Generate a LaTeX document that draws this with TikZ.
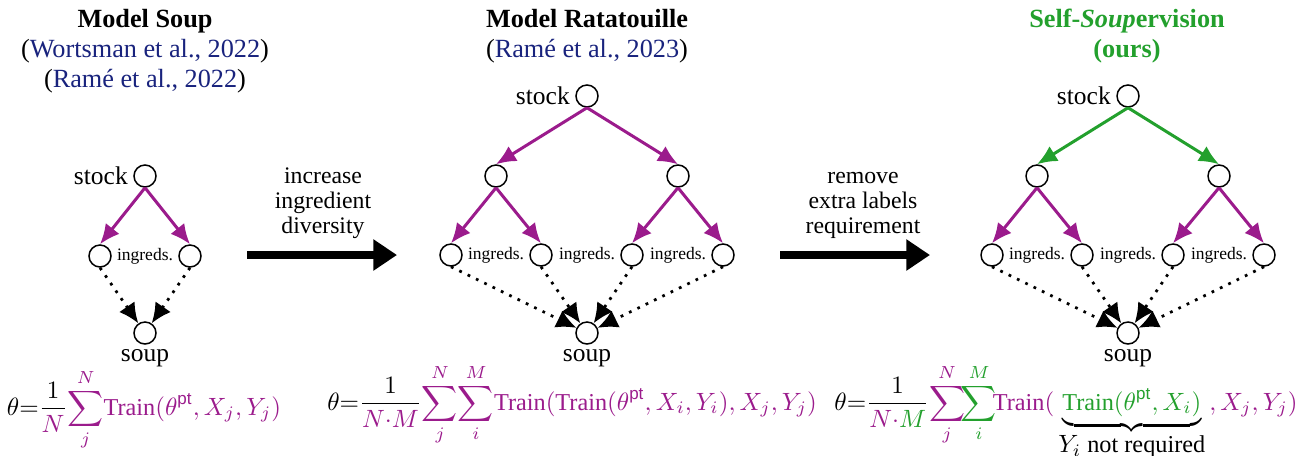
\documentclass[tikz,border=0pt]{standalone}
\usepackage{amsmath}
\usepackage{fontspec}
\setmainfont{Liberation Serif}
\setsansfont{Liberation Sans}
\usetikzlibrary{arrows.meta}
\definecolor{pur}{RGB}{155,27,140}
\definecolor{grn}{RGB}{35,160,45}
\definecolor{citeblue}{RGB}{25,35,125}
\newcommand\cP[1]{\textcolor{pur}{#1}}
\newcommand\cG[1]{\textcolor{grn}{#1}}
\newcommand\pt{\text{\sffamily pt}}
\begin{document}
\begin{tikzpicture}[x=0.4pt,y=-0.4pt,
  circ/.style={circle,draw,line width=0.6pt,minimum size=8.8pt,inner sep=0pt},
  titletxt/.style={anchor=base,font=\fontsize{10.5}{12.6}\selectfont\bfseries,inner sep=0pt},
  citetxt/.style={anchor=base,font=\fontsize{10.5}{12.6}\selectfont,inner sep=0pt},
  lbl/.style={font=\fontsize{10.2}{12}\selectfont,inner sep=0pt},
  ingtxt/.style={font=\fontsize{7}{8}\selectfont,inner sep=0pt},
  arrtxt/.style={anchor=base,font=\fontsize{9.5}{10}\selectfont,inner sep=0pt},
  formula/.style={anchor=base,font=\fontsize{9.7}{11.6}\selectfont,inner sep=0pt},
  parr/.style={draw=pur,line width=1.2pt,-{Latex[length=8pt,width=7pt]}},
  garr/.style={draw=grn,line width=1.2pt,-{Latex[length=8pt,width=7pt]}},
  darr/.style={draw=black,line width=1.1pt,dash pattern=on 1.1pt off 2.6pt,-{Latex[length=8pt,width=7.5pt]}},
  bigarr/.style={draw=black,line width=3.2pt,-{Triangle[length=9.5pt,width=12pt]}}
]
\useasboundingbox (0,0) rectangle (1305,455);

% ---------------- Panel 1: Model Soup
\node[titletxt] (t1) at (145,27) {Model Soup};
\node[citetxt] (c1a) at (145,57) {(\textcolor{citeblue}{Wortsman et al., 2022})};
\node[citetxt] (c1b) at (145,87) {(\textcolor{citeblue}{Ram\'e et al., 2022})};

\node[circ] (s1) at (145,176) {};
\node[lbl,anchor=east] (s1l) at ([xshift=-2pt]s1.west) {stock};
\node[circ] (i1a) at (100,256) {};
\node[circ] (i1b) at (190,256) {};
\node[ingtxt] (i1l) at (145,256) {ingreds.};
\node[circ] (p1) at (145,333) {};
\node[lbl,anchor=north] (p1l) at ([yshift=-1.5pt]p1.south) {soup};
\draw[parr] (s1.south) -- (i1a.north);
\draw[parr] (s1.south) -- (i1b.north);
\draw[darr] (i1a.south) -- (p1);
\draw[darr] (i1b.south) -- (p1);

\node[formula] (f1) at (144,415) {$\displaystyle \theta{=}\frac{1}{\cP{N}}\cP{\sum_{j}^{N}\!\text{Train}(\theta^{\pt}, X_j, Y_j)}$};

% ---------------- Arrow 1
\coordinate (a1s) at (247,255);
\coordinate (a1e) at (397,255);
\draw[bigarr] (a1s) -- (a1e);
\node[arrtxt] (a1t1) at (323,183) {increase};
\node[arrtxt] (a1t2) at (323,208) {ingredient};
\node[arrtxt] (a1t3) at (323,233) {diversity};

% ---------------- Panel 2: Model Ratatouille
\node[titletxt] (t2) at (587,27) {Model Ratatouille};
\node[citetxt] (c2a) at (587,57) {(\textcolor{citeblue}{Ram\'e et al., 2023})};

\node[circ] (s2) at (587,96) {};
\node[lbl,anchor=east] (s2l) at ([xshift=-2pt]s2.west) {stock};
\node[circ] (m2a) at (496,176) {};
\node[circ] (m2b) at (678,176) {};
\node[circ] (i2a) at (451,255) {};
\node[circ] (i2b) at (541,255) {};
\node[circ] (i2c) at (632,255) {};
\node[circ] (i2d) at (723,255) {};
\node[ingtxt] (i2l1) at (496,255) {ingreds.};
\node[ingtxt] (i2l2) at (587,255) {ingreds.};
\node[ingtxt] (i2l3) at (678,255) {ingreds.};
\node[circ] (p2) at (587,333) {};
\node[lbl,anchor=north] (p2l) at ([yshift=-1.5pt]p2.south) {soup};
\draw[parr] (s2.south) -- (m2a.north);
\draw[parr] (s2.south) -- (m2b.north);
\draw[parr] (m2a.south) -- (i2a.north);
\draw[parr] (m2a.south) -- (i2b.north);
\draw[parr] (m2b.south) -- (i2c.north);
\draw[parr] (m2b.south) -- (i2d.north);
\draw[darr] (i2a.south) -- (p2);
\draw[darr] (i2b.south) -- (p2);
\draw[darr] (i2c.south) -- (p2);
\draw[darr] (i2d.south) -- (p2);

\node[formula] (f2) at (572,410) {$\displaystyle \theta{=}\frac{1}{\cP{N{\cdot}M}}\cP{\sum_{j}^{N}\!\sum_{i}^{M}\!\text{Train}(\text{Train}(\theta^{\pt}, X_i, Y_i), X_j, Y_j)}$};

% ---------------- Arrow 2
\coordinate (a2s) at (780,255);
\coordinate (a2e) at (930,255);
\draw[bigarr] (a2s) -- (a2e);
\node[arrtxt] (a2t1) at (863,183) {remove};
\node[arrtxt] (a2t2) at (863,208) {extra labels};
\node[arrtxt] (a2t3) at (863,233) {requirement};

% ---------------- Panel 3: Self-Soupervision
\node[titletxt,text=grn] (t3) at (1127,27) {Self-\textit{Soup}ervision};
\node[titletxt,text=grn] (c3a) at (1127,57) {(ours)};

\node[circ] (s3) at (1128,96) {};
\node[lbl,anchor=east] (s3l) at ([xshift=-2pt]s3.west) {stock};
\node[circ] (m3a) at (1037,176) {};
\node[circ] (m3b) at (1219,176) {};
\node[circ] (i3a) at (992,255) {};
\node[circ] (i3b) at (1082,255) {};
\node[circ] (i3c) at (1173,255) {};
\node[circ] (i3d) at (1264,255) {};
\node[ingtxt] (i3l1) at (1037,255) {ingreds.};
\node[ingtxt] (i3l2) at (1128,255) {ingreds.};
\node[ingtxt] (i3l3) at (1219,255) {ingreds.};
\node[circ] (p3) at (1128,333) {};
\node[lbl,anchor=north] (p3l) at ([yshift=-1.5pt]p3.south) {soup};
\draw[garr] (s3.south) -- (m3a.north);
\draw[garr] (s3.south) -- (m3b.north);
\draw[parr] (m3a.south) -- (i3a.north);
\draw[parr] (m3a.south) -- (i3b.north);
\draw[parr] (m3b.south) -- (i3c.north);
\draw[parr] (m3b.south) -- (i3d.north);
\draw[darr] (i3a.south) -- (p3);
\draw[darr] (i3b.south) -- (p3);
\draw[darr] (i3c.south) -- (p3);
\draw[darr] (i3d.south) -- (p3);

\node[formula] (f3) at (1066,410) {$\displaystyle \theta{=}\frac{1}{\cP{N{\cdot}}\cG{M}}\cP{\sum_{j}^{N}}\!\cG{\sum_{i}^{M}}\!\cP{\text{Train}(}\underbrace{\cG{\text{Train}(\theta^{\pt}, X_i)}}_{\smash{\raisebox{-1.2pt}{$Y_i$ not required}}}\cP{, X_j, Y_j)}$};
\end{tikzpicture}
\end{document}
